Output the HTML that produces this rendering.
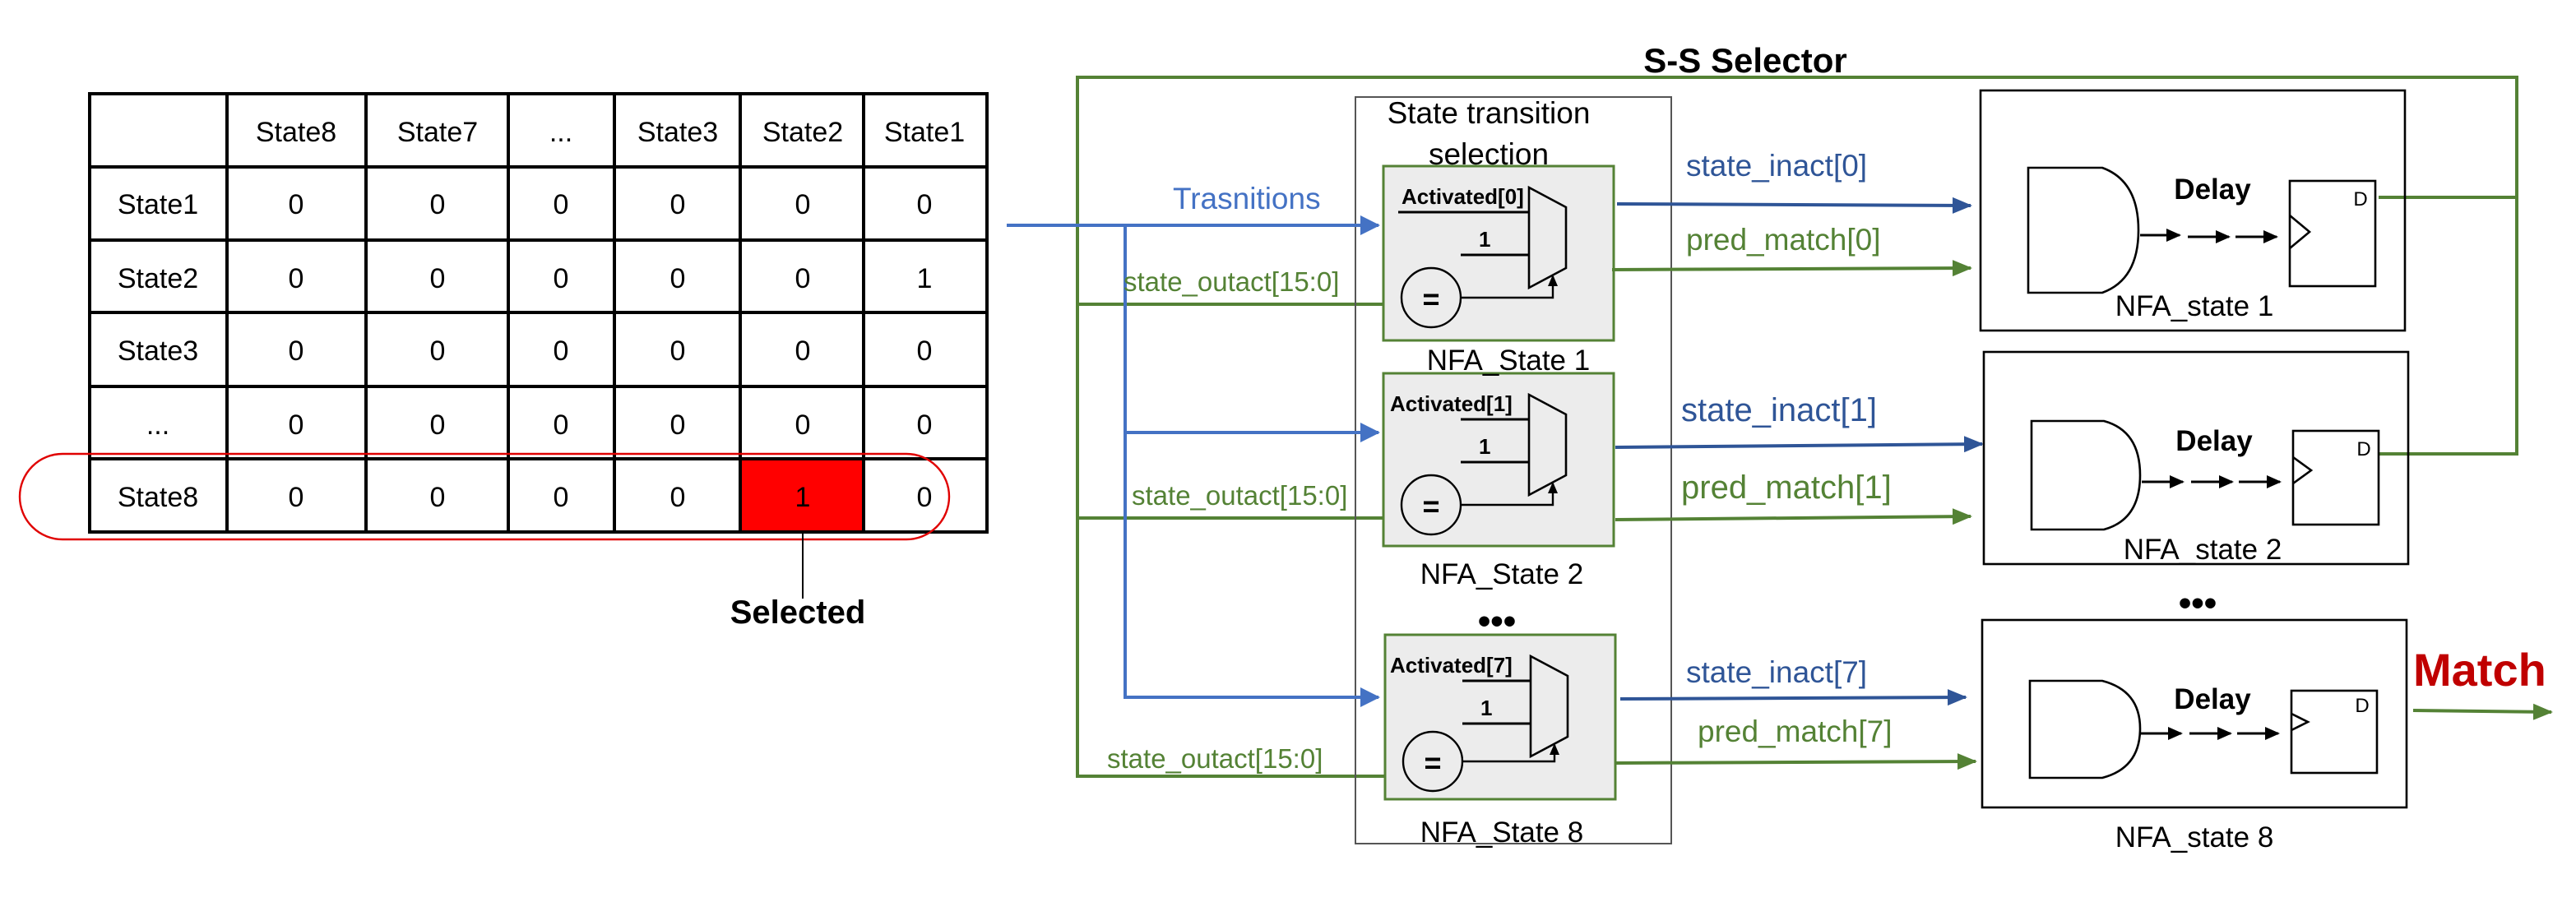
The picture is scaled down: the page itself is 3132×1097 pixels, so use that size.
<!DOCTYPE html>
<html><head><meta charset="utf-8"><style>
html,body{margin:0;padding:0;background:#fff;}
svg{display:block;}
text{font-family:"Liberation Sans",sans-serif;}
</style></head><body>
<svg width="3132" height="1097" viewBox="0 0 1566 548.5" xmlns="http://www.w3.org/2000/svg">
<defs>
<marker id="ad" markerWidth="12" markerHeight="10" refX="11" refY="5" orient="auto" markerUnits="userSpaceOnUse"><path d="M0,0 L12,5 L0,10 z" fill="#2f5597"/></marker>
<marker id="ag" markerWidth="12" markerHeight="10" refX="11" refY="5" orient="auto" markerUnits="userSpaceOnUse"><path d="M0,0 L12,5 L0,10 z" fill="#548235"/></marker>
<marker id="ak" markerWidth="9" markerHeight="8" refX="8" refY="4" orient="auto" markerUnits="userSpaceOnUse"><path d="M0,0 L9,4 L0,8 z" fill="#000"/></marker>
<marker id="at" markerWidth="7" markerHeight="6" refX="6" refY="3" orient="auto" markerUnits="userSpaceOnUse"><path d="M0,0 L7,3 L0,6 z" fill="#000"/></marker>
<marker id="abb" markerWidth="12" markerHeight="12" refX="11" refY="6" orient="auto" markerUnits="userSpaceOnUse"><path d="M0,0 L12,6 L0,12 z" fill="#4472c4"/></marker>
</defs>

<!-- TABLE -->
<rect x="451" y="280" width="75" height="43.5" fill="#ff0000"/>
<g stroke="#000" stroke-width="2" fill="none">
<rect x="54.5" y="57" width="545.5" height="266.5"/>
<line x1="138" y1="57" x2="138" y2="323.5"/>
<line x1="222.5" y1="57" x2="222.5" y2="323.5"/>
<line x1="309" y1="57" x2="309" y2="323.5"/>
<line x1="373.5" y1="57" x2="373.5" y2="323.5"/>
<line x1="450" y1="57" x2="450" y2="323.5"/>
<line x1="525" y1="57" x2="525" y2="323.5"/>
<line x1="54.5" y1="101.5" x2="600" y2="101.5"/>
<line x1="54.5" y1="146" x2="600" y2="146"/>
<line x1="54.5" y1="190" x2="600" y2="190"/>
<line x1="54.5" y1="235" x2="600" y2="235"/>
<line x1="54.5" y1="279" x2="600" y2="279"/>
</g>
<g font-size="17" text-anchor="middle" fill="#000">
<text x="180" y="86">State8</text><text x="266" y="86">State7</text><text x="341" y="86">...</text><text x="412" y="86">State3</text><text x="488" y="86">State2</text><text x="562" y="86">State1</text>
<text x="96" y="130">State1</text><text x="96" y="175">State2</text><text x="96" y="219">State3</text><text x="96" y="264">...</text><text x="96" y="308">State8</text>
</g>
<g font-size="17" text-anchor="middle" fill="#000">
<text x="180" y="130">0</text><text x="266" y="130">0</text><text x="341" y="130">0</text><text x="412" y="130">0</text><text x="488" y="130">0</text><text x="562" y="130">0</text>
<text x="180" y="175">0</text><text x="266" y="175">0</text><text x="341" y="175">0</text><text x="412" y="175">0</text><text x="488" y="175">0</text><text x="562" y="175">1</text>
<text x="180" y="219">0</text><text x="266" y="219">0</text><text x="341" y="219">0</text><text x="412" y="219">0</text><text x="488" y="219">0</text><text x="562" y="219">0</text>
<text x="180" y="264">0</text><text x="266" y="264">0</text><text x="341" y="264">0</text><text x="412" y="264">0</text><text x="488" y="264">0</text><text x="562" y="264">0</text>
<text x="180" y="308">0</text><text x="266" y="308">0</text><text x="341" y="308">0</text><text x="412" y="308">0</text><text x="488" y="308">1</text><text x="562" y="308">0</text>
</g>
<rect x="12" y="276" width="565" height="52" rx="26" ry="26" fill="none" stroke="#e00000" stroke-width="1.2"/>
<line x1="488" y1="323.5" x2="488" y2="364" stroke="#000" stroke-width="1"/>
<text x="485" y="379" font-size="20" font-weight="bold" text-anchor="middle">Selected</text>

<!-- S-S Selector -->
<text x="1061" y="44" font-size="21" font-weight="bold" text-anchor="middle">S-S Selector</text>

<!-- green outer loop -->
<g stroke="#548235" stroke-width="2" fill="none">
<polyline points="1446,120 1530,120 1530,47 655,47 655,472 842,472"/>
<line x1="655" y1="185" x2="842" y2="185"/>
<line x1="655" y1="315" x2="842" y2="315"/>
<polyline points="1446,276 1530,276 1530,120"/>
</g>

<!-- gray container -->
<rect x="824" y="59" width="192" height="454" fill="none" stroke="#555" stroke-width="1"/>
<text x="905" y="75" font-size="18.5" text-anchor="middle">State transition</text>
<text x="905" y="100" font-size="18.5" text-anchor="middle">selection</text>

<!-- blue input lines -->
<g stroke="#4472c4" stroke-width="2" fill="none">
<line x1="612" y1="137" x2="838" y2="137" marker-end="url(#abb)"/>
<polyline points="684,137 684,424 838,424" marker-end="url(#abb)"/>
<line x1="684" y1="263" x2="838" y2="263" marker-end="url(#abb)"/>
</g>
<text x="713" y="127" font-size="18.5" fill="#4472c4">Trasnitions</text>
<g font-size="16.5" fill="#548235">
<text x="683" y="177">state_outact[15:0]</text>
<text x="688" y="307">state_outact[15:0]</text>
<text x="673" y="467">state_outact[15:0]</text>
</g>

<!-- NFA state blocks -->
<g>
<rect x="841" y="101" width="140" height="106" fill="#ececec" stroke="#548235" stroke-width="1.5"/>
<text x="852" y="124" font-size="13" font-weight="bold">Activated[0]</text>
<line x1="850" y1="129" x2="930" y2="129" stroke="#000" stroke-width="1.5"/>
<text x="899" y="150" font-size="13" font-weight="bold">1</text>
<line x1="888" y1="155" x2="930" y2="155" stroke="#000" stroke-width="1.5"/>
<polygon points="929.5,114 952,126 952,163 929.5,175" fill="none" stroke="#000" stroke-width="1.3"/>
<ellipse cx="870" cy="181" rx="18" ry="18" fill="none" stroke="#000" stroke-width="1.2"/>
<text x="870" y="188" font-size="18" font-weight="bold" text-anchor="middle">=</text>
<polyline points="888,181 944,181 944,168" fill="none" stroke="#000" stroke-width="1.2" marker-end="url(#at)"/>
</g>
<g transform="translate(0,126)">
<rect x="841" y="101" width="140" height="105" fill="#ececec" stroke="#548235" stroke-width="1.5"/>
<text x="845" y="124" font-size="13" font-weight="bold">Activated[1]</text>
<line x1="888" y1="129" x2="930" y2="129" stroke="#000" stroke-width="1.5"/>
<text x="899" y="150" font-size="13" font-weight="bold">1</text>
<line x1="888" y1="155" x2="930" y2="155" stroke="#000" stroke-width="1.5"/>
<polygon points="929.5,114 952,126 952,163 929.5,175" fill="none" stroke="#000" stroke-width="1.3"/>
<ellipse cx="870" cy="181" rx="18" ry="18" fill="none" stroke="#000" stroke-width="1.2"/>
<text x="870" y="188" font-size="18" font-weight="bold" text-anchor="middle">=</text>
<polyline points="888,181 944,181 944,168" fill="none" stroke="#000" stroke-width="1.2" marker-end="url(#at)"/>
</g>
<g transform="translate(1,285)">
<rect x="841" y="101" width="140" height="100" fill="#ececec" stroke="#548235" stroke-width="1.5"/>
<text x="844" y="124" font-size="13" font-weight="bold">Activated[7]</text>
<line x1="888" y1="129" x2="930" y2="129" stroke="#000" stroke-width="1.5"/>
<text x="899" y="150" font-size="13" font-weight="bold">1</text>
<line x1="888" y1="155" x2="930" y2="155" stroke="#000" stroke-width="1.5"/>
<polygon points="929.5,114 952,126 952,163 929.5,175" fill="none" stroke="#000" stroke-width="1.3"/>
<ellipse cx="870" cy="178" rx="18" ry="18" fill="none" stroke="#000" stroke-width="1.2"/>
<text x="870" y="185" font-size="18" font-weight="bold" text-anchor="middle">=</text>
<polyline points="888,178 944,178 944,168" fill="none" stroke="#000" stroke-width="1.2" marker-end="url(#at)"/>
</g>
<g font-size="17.5" text-anchor="middle">
<text x="917" y="225">NFA_State 1</text>
<text x="913" y="355">NFA_State 2</text>
<text x="913" y="512">NFA_State 8</text>
</g>
<text x="910" y="385" font-size="22" font-weight="bold" text-anchor="middle">•••</text>

<!-- output wires -->
<g stroke-width="2" fill="none">
<line x1="983" y1="124" x2="1198" y2="125" stroke="#2f5597" marker-end="url(#ad)"/>
<line x1="980" y1="164" x2="1198" y2="163" stroke="#548235" marker-end="url(#ag)"/>
<line x1="982" y1="272" x2="1205" y2="270" stroke="#2f5597" marker-end="url(#ad)"/>
<line x1="982" y1="316" x2="1198" y2="314" stroke="#548235" marker-end="url(#ag)"/>
<line x1="985" y1="425" x2="1195" y2="424" stroke="#2f5597" marker-end="url(#ad)"/>
<line x1="982" y1="464" x2="1201" y2="463" stroke="#548235" marker-end="url(#ag)"/>
<line x1="1467" y1="432" x2="1551" y2="433" stroke="#548235" marker-end="url(#ag)"/>
</g>
<g font-size="18.5">
<text x="1025" y="107" fill="#2f5597">state_inact[0]</text>
<text x="1025" y="152" fill="#548235">pred_match[0]</text>
<text x="1022" y="256" fill="#2f5597" font-size="20">state_inact[1]</text>
<text x="1022" y="303" fill="#548235" font-size="20">pred_match[1]</text>
<text x="1025" y="415" fill="#2f5597">state_inact[7]</text>
<text x="1032" y="451" fill="#548235">pred_match[7]</text>
</g>
<text x="1467" y="417" font-size="28" font-weight="bold" fill="#c00000">Match</text>

<!-- right NFA boxes -->
<g stroke="#000" stroke-width="1.3" fill="none">
<rect x="1204" y="55" width="258" height="146"/>
<rect x="1206" y="214" width="258" height="129"/>
<rect x="1205" y="377" width="258" height="114"/>
<path d="M1233,102 L1278,102 Q1300,110 1300,140 Q1300,170 1278,178 L1233,178 Z"/>
<path d="M1235,256 L1279,256 Q1301,262 1301,289 Q1301,316 1279,322 L1235,322 Z"/>
<path d="M1234,414 L1278,414 Q1301,420 1301,443 Q1301,467 1278,473 L1234,473 Z"/>
<rect x="1392" y="110" width="52" height="64"/>
<rect x="1394" y="262" width="52" height="57"/>
<rect x="1393" y="420" width="52" height="50"/>
<polyline points="1392,131 1404,141 1392,151"/>
<polyline points="1394,278 1405,286 1394,294"/>
<polyline points="1393,434 1403,439 1393,444"/>
</g>
<g stroke="#000" stroke-width="1.5">
<line x1="1301" y1="143" x2="1325" y2="143" marker-end="url(#ak)"/>
<line x1="1330" y1="144" x2="1355" y2="144" marker-end="url(#ak)"/>
<line x1="1359" y1="144" x2="1384" y2="144" marker-end="url(#ak)"/>
<line x1="1302" y1="293" x2="1327" y2="293" marker-end="url(#ak)"/>
<line x1="1332" y1="293" x2="1357" y2="293" marker-end="url(#ak)"/>
<line x1="1361" y1="293" x2="1386" y2="293" marker-end="url(#ak)"/>
<line x1="1301" y1="446" x2="1326" y2="446" marker-end="url(#ak)"/>
<line x1="1331" y1="446" x2="1356" y2="446" marker-end="url(#ak)"/>
<line x1="1360" y1="446" x2="1385" y2="446" marker-end="url(#ak)"/>
</g>
<g font-size="17.5" font-weight="bold" text-anchor="middle">
<text x="1345" y="121">Delay</text>
<text x="1346" y="274">Delay</text>
<text x="1345" y="431">Delay</text>
</g>
<g font-size="12" text-anchor="middle">
<text x="1435" y="125">D</text>
<text x="1437" y="277">D</text>
<text x="1436" y="433">D</text>
</g>
<g font-size="17.5" text-anchor="middle">
<text x="1334" y="192">NFA_state 1</text>
<text x="1339" y="340">NFA_state 2</text>
<text x="1334" y="515">NFA_state 8</text>
</g>
<text x="1336" y="374" font-size="22" font-weight="bold" text-anchor="middle">•••</text>
</svg>
</body></html>
